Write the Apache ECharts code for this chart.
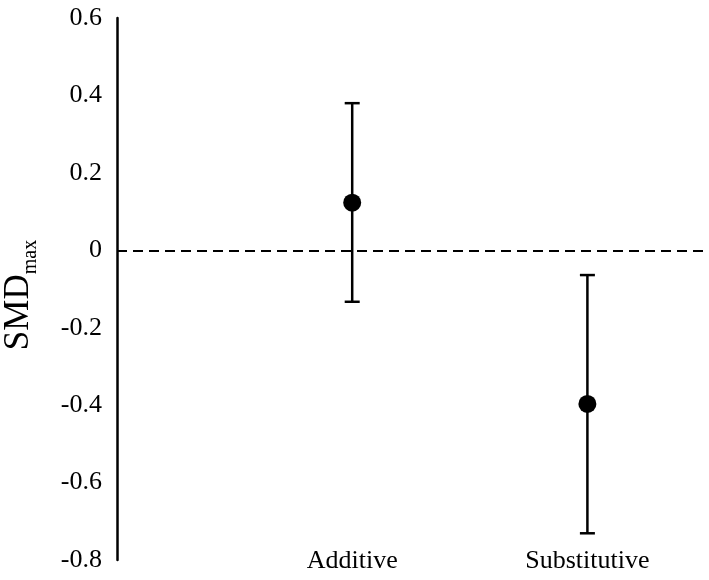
<!DOCTYPE html>
<html>
<head>
<meta charset="utf-8">
<script src="https://cdn.jsdelivr.net/npm/echarts@6/dist/echarts.min.js"></script>
<style>
html,body{margin:0;padding:0;background:#fff;}
#chart{width:709px;height:580px;}
</style>
</head>
<body>
<div id="chart"></div>
<script>
const categories = ['Additive', 'Substitutive'];
const smd = [0.123, -0.397];
const ciLower = [-0.133, -0.731];
const ciUpper = [0.380, -0.064];
const yTicks = [-0.8, -0.6, -0.4, -0.2, 0, 0.2, 0.4, 0.6];

const FONT = '"Liberation Serif", "Times New Roman", serif';
const chart = echarts.init(document.getElementById('chart'), null, {renderer: 'canvas'});

const pointData = categories.map((c, i) => [i + 1, smd[i]]);
const errData = categories.map((c, i) => [i + 1, ciLower[i], ciUpper[i]]);

const option = {
  backgroundColor: '#fff',
  animation: false,
  grid: {left: 117, right: 4, top: 18, bottom: 20, containLabel: false},
  xAxis: {
    type: 'value',
    min: 0,
    max: 2.5,
    interval: 1,
    axisLine: {show: false},
    axisTick: {show: false},
    splitLine: {show: false},
    axisLabel: {
      show: true,
      margin: -12,
      fontFamily: FONT,
      fontSize: 26,
      color: '#000',
      showMaxLabel: false,
      formatter: v => (Number.isInteger(v) && v >= 1 && v <= categories.length) ? categories[v - 1] : ''
    }
  },
  yAxis: {
    type: 'value',
    min: yTicks[0],
    max: yTicks[yTicks.length - 1],
    interval: 0.2,
    axisLine: {show: true, lineStyle: {color: '#000', width: 2.5}},
    axisTick: {show: false},
    splitLine: {show: false},
    axisLabel: {
      margin: 15,
      fontFamily: FONT,
      fontSize: 26,
      color: '#000',
      formatter: v => String(Math.round(v * 10) / 10)
    }
  },
  graphic: [{
    type: 'text',
    x: 18,
    y: 295,
    rotation: Math.PI / 2,
    style: {
      text: '{a|SMD}{b|max}',
      align: 'center',
      verticalAlign: 'middle',
      fill: '#000',
      rich: {
        a: {fontFamily: FONT, fontSize: 35, fill: '#000', verticalAlign: 'bottom', lineHeight: 36},
        b: {fontFamily: FONT, fontSize: 20, fill: '#000', verticalAlign: 'bottom', padding: [0, 0, -5, 0]}
      }
    }
  }],
  series: [
    {
      type: 'custom',
      data: errData,
      z: 2,
      renderItem: function (params, api) {
        const x = api.value(0);
        const lo = api.coord([x, api.value(1)]);
        const hi = api.coord([x, api.value(2)]);
        const hw = 7.5;
        const st = {stroke: '#000', lineWidth: 2.5};
        return {
          type: 'group',
          children: [
            {type: 'line', shape: {x1: lo[0], y1: lo[1], x2: hi[0], y2: hi[1]}, style: st},
            {type: 'line', shape: {x1: lo[0] - hw, y1: lo[1], x2: lo[0] + hw, y2: lo[1]}, style: st},
            {type: 'line', shape: {x1: hi[0] - hw, y1: hi[1], x2: hi[0] + hw, y2: hi[1]}, style: st}
          ]
        };
      }
    },
    {
      type: 'scatter',
      data: pointData,
      symbol: 'circle',
      symbolSize: 18,
      z: 3,
      itemStyle: {color: '#000', opacity: 1},
      markLine: {
        silent: true,
        symbol: ['none', 'none'],
        label: {show: false},
        lineStyle: {color: '#000', width: 2.2, type: [10, 6]},
        data: [{yAxis: 0}]
      }
    }
  ]
};
chart.setOption(option);
</script>
</body>
</html>
